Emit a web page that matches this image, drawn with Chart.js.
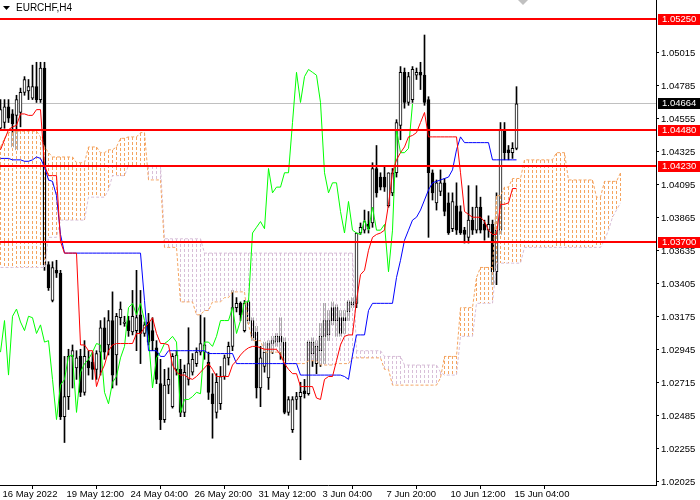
<!DOCTYPE html>
<html>
<head>
<meta charset="utf-8">
<script src="https://cdn.jsdelivr.net/npm/chart.js@4/dist/chart.umd.min.js"></script>
<style>
html,body{margin:0;padding:0;background:#ffffff;}
#wrap{width:700px;height:500px;position:relative;}
</style>
</head>
<body>
<div id="wrap"><canvas id="c" width="700" height="500"></canvas></div>
<script>
const symbolTitle = 'EURCHF,H4';

const opens = [
1.0449,1.0453,1.0464,1.0459,1.0458,1.0460,1.0474,1.0475,1.0470,1.0478,
1.0469,1.0491,1.0354,1.0329,1.0350,1.0348,1.0248,1.0262,1.0290,1.0282,
1.0290,1.0265,1.0287,1.0286,1.0281,1.0293,1.0310,1.0298,1.0315,1.0291,
1.0317,1.0313,1.0315,1.0307,1.0308,1.0319,1.0306,1.0314,1.0308,1.0296,
1.0271,1.0246,1.0270,1.0255,1.0281,1.0281,1.0251,1.0274,1.0279,1.0285,
1.0293,1.0293,1.0286,1.0264,1.0251,1.0257,1.0276,1.0289,1.0297,1.0324,
1.0327,1.0308,1.0328,1.0315,1.0307,1.0268,1.0283,1.0275,1.0299,1.0300,
1.0304,1.0300,1.0251,1.0239,1.0260,1.0262,1.0266,1.0264,1.0292,1.0285,
1.0294,1.0304,1.0305,1.0324,1.0315,1.0317,1.0317,1.0321,1.0326,1.0327,
1.0376,1.0378,1.0382,1.0383,1.0421,1.0415,1.0415,1.0395,1.0404,1.0418,
1.0451,1.0488,1.0467,1.0469,1.0486,1.0488,1.0486,1.0469,1.0418,1.0397,
1.0405,1.0411,1.0397,1.0379,1.0395,1.0391,1.0378,1.0373,1.0385,1.0378,
1.0394,1.0382,1.0378,1.0382,1.0349,1.0378,1.0448,1.0434,1.0432,1.0435];

const highs = [
1.0469,1.0469,1.0469,1.0462,1.0472,1.0477,1.0485,1.0483,1.0493,1.0495,
1.0495,1.0495,1.0356,1.0356,1.0357,1.0350,1.0290,1.0295,1.0298,1.0294,
1.0295,1.0301,1.0294,1.0293,1.0294,1.0315,1.0317,1.0322,1.0335,1.0320,
1.0328,1.0318,1.0318,1.0336,1.0350,1.0336,1.0314,1.0320,1.0317,1.0301,
1.0288,1.0281,1.0282,1.0292,1.0294,1.0288,1.0284,1.0310,1.0292,1.0296,
1.0319,1.0317,1.0293,1.0278,1.0278,1.0283,1.0291,1.0300,1.0336,1.0331,
1.0328,1.0329,1.0329,1.0317,1.0311,1.0297,1.0300,1.0301,1.0304,1.0306,
1.0317,1.0303,1.0262,1.0262,1.0265,1.0272,1.0274,1.0301,1.0303,1.0301,
1.0313,1.0327,1.0322,1.0328,1.0326,1.0322,1.0322,1.0329,1.0331,1.0376,
1.0383,1.0392,1.0391,1.0425,1.0437,1.0418,1.0422,1.0418,1.0421,1.0455,
1.0492,1.0491,1.0488,1.0492,1.0491,1.0495,1.0514,1.0471,1.0420,1.0413,
1.0420,1.0414,1.0404,1.0404,1.0411,1.0395,1.0380,1.0409,1.0394,1.0409,
1.0401,1.0385,1.0388,1.0385,1.0404,1.0453,1.0453,1.0437,1.0439,1.0478];

const lows = [
1.0448,1.0449,1.0453,1.0436,1.0434,1.0450,1.0472,1.0469,1.0469,1.0467,
1.0467,1.0350,1.0336,1.0328,1.0345,1.0246,1.0230,1.0253,1.0268,1.0274,
1.0262,1.0263,1.0277,1.0274,1.0274,1.0277,1.0288,1.0291,1.0268,1.0270,
1.0312,1.0311,1.0304,1.0305,1.0294,1.0285,1.0304,1.0298,1.0294,1.0271,
1.0239,1.0244,1.0264,1.0254,1.0277,1.0248,1.0248,1.0270,1.0277,1.0283,
1.0291,1.0288,1.0260,1.0233,1.0247,1.0253,1.0274,1.0284,1.0294,1.0321,
1.0315,1.0307,1.0313,1.0301,1.0261,1.0255,1.0279,1.0267,1.0292,1.0297,
1.0288,1.0250,1.0249,1.0237,1.0253,1.0218,1.0261,1.0263,1.0283,1.0278,
1.0283,1.0285,1.0301,1.0312,1.0304,1.0304,1.0306,1.0315,1.0324,1.0324,
1.0375,1.0376,1.0376,1.0380,1.0401,1.0406,1.0405,1.0394,1.0402,1.0415,
1.0441,1.0463,1.0465,1.0467,1.0483,1.0476,1.0465,1.0373,1.0399,1.0392,
1.0402,1.0388,1.0375,1.0377,1.0375,1.0375,1.0369,1.0369,1.0375,1.0376,
1.0376,1.0371,1.0373,1.0340,1.0340,1.0375,1.0427,1.0427,1.0428,1.0434];

const closes = [
1.0462,1.0464,1.0456,1.0452,1.0469,1.0474,1.0483,1.0478,1.0478,1.0469,
1.0491,1.0354,1.0338,1.0352,1.0348,1.0248,1.0262,1.0290,1.0294,1.0289,
1.0265,1.0290,1.0282,1.0281,1.0292,1.0310,1.0293,1.0315,1.0277,1.0318,
1.0323,1.0314,1.0308,1.0318,1.0317,1.0306,1.0312,1.0300,1.0301,1.0274,
1.0246,1.0270,1.0274,1.0290,1.0291,1.0251,1.0279,1.0285,1.0288,1.0293,
1.0299,1.0298,1.0265,1.0257,1.0272,1.0276,1.0289,1.0297,1.0324,1.0327,
1.0319,1.0327,1.0315,1.0303,1.0268,1.0289,1.0293,1.0299,1.0301,1.0304,
1.0300,1.0251,1.0260,1.0260,1.0262,1.0265,1.0264,1.0300,1.0300,1.0297,
1.0304,1.0315,1.0315,1.0315,1.0324,1.0306,1.0315,1.0328,1.0328,1.0376,
1.0380,1.0384,1.0379,1.0421,1.0404,1.0408,1.0408,1.0418,1.0418,1.0453,
1.0488,1.0467,1.0485,1.0490,1.0488,1.0486,1.0467,1.0418,1.0404,1.0411,
1.0411,1.0391,1.0376,1.0398,1.0378,1.0376,1.0375,1.0385,1.0378,1.0394,
1.0378,1.0378,1.0382,1.0349,1.0378,1.0448,1.0432,1.0432,1.0435,1.0466];

const tenkan = [
1.0434,1.0441,1.0448,1.0450,1.0451,1.0459,1.0459,1.0458,1.0458,1.0462,
1.0462,1.0423,1.0416,1.0416,1.0416,1.0370,1.0362,1.0362,1.0362,1.0362,
1.0298,1.0298,1.0294,1.0294,1.0269,1.0278,1.0284,1.0294,1.0298,1.0299,
1.0299,1.0299,1.0299,1.0299,1.0306,1.0306,1.0310,1.0313,1.0317,1.0306,
1.0299,1.0299,1.0298,1.0284,1.0279,1.0277,1.0277,1.0275,1.0274,1.0276,
1.0279,1.0282,1.0285,1.0281,1.0276,1.0276,1.0276,1.0276,1.0284,1.0287,
1.0291,1.0294,1.0296,1.0297,1.0297,1.0296,1.0295,1.0295,1.0295,1.0295,
1.0291,1.0285,1.0281,1.0278,1.0278,1.0269,1.0269,1.0269,1.0269,1.0261,
1.0260,1.0274,1.0276,1.0276,1.0287,1.0298,1.0304,1.0305,1.0305,1.0329,
1.0347,1.0350,1.0364,1.0373,1.0375,1.0376,1.0378,1.0396,1.0418,1.0427,
1.0432,1.0436,1.0443,1.0444,1.0446,1.0453,1.0460,1.0443,1.0443,1.0443,
1.0443,1.0443,1.0443,1.0443,1.0443,1.0418,1.0391,1.0389,1.0387,1.0387,
1.0387,1.0384,1.0378,1.0375,1.0375,1.0396,1.0396,1.0397,1.0407,1.0407];

const kijun = [
1.0428,1.0428,1.0428,1.0427,1.0427,1.0427,1.0426,1.0426,1.0427,1.0429,
1.0428,1.0422,1.0413,1.0412,1.0402,1.0375,1.0362,1.0362,1.0362,1.0362,
1.0362,1.0362,1.0362,1.0362,1.0362,1.0362,1.0362,1.0362,1.0362,1.0362,
1.0362,1.0362,1.0362,1.0362,1.0362,1.0362,1.0329,1.0294,1.0294,1.0294,
1.0290,1.0290,1.0294,1.0294,1.0294,1.0294,1.0294,1.0294,1.0294,1.0294,
1.0294,1.0294,1.0292,1.0292,1.0292,1.0292,1.0292,1.0292,1.0292,1.0285,
1.0285,1.0285,1.0285,1.0285,1.0285,1.0285,1.0285,1.0285,1.0285,1.0285,
1.0285,1.0285,1.0285,1.0285,1.0285,1.0277,1.0277,1.0277,1.0277,1.0277,
1.0277,1.0277,1.0277,1.0277,1.0277,1.0277,1.0276,1.0274,1.0291,1.0305,
1.0305,1.0305,1.0322,1.0327,1.0327,1.0327,1.0327,1.0327,1.0327,1.0345,
1.0357,1.0371,1.0378,1.0385,1.0387,1.0392,1.0399,1.0406,1.0411,1.0412,
1.0413,1.0414,1.0415,1.0420,1.0434,1.0443,1.0439,1.0439,1.0439,1.0439,
1.0439,1.0439,1.0439,1.0427,1.0427,1.0427,1.0427,1.0427,1.0427,1.0427];

const spanA = [
1.0436,1.0442,1.0446,1.0446,1.0447,1.0447,1.0447,1.0447,1.0447,1.0447,
1.0443,1.0436,1.0432,1.0429,1.0429,1.0429,1.0429,1.0429,1.0429,1.0425,
1.0425,1.0425,1.0436,1.0436,1.0436,1.0432,1.0432,1.0434,1.0434,1.0436,
1.0442,1.0442,1.0443,1.0443,1.0443,1.0446,1.0446,1.0413,1.0413,1.0413,
1.0413,1.0366,1.0366,1.0366,1.0366,1.0328,1.0328,1.0328,1.0328,1.0319,
1.0319,1.0322,1.0322,1.0328,1.0328,1.0328,1.0331,1.0331,1.0335,1.0335,
1.0335,1.0335,1.0312,1.0301,1.0301,1.0301,1.0293,1.0293,1.0293,1.0293,
1.0293,1.0285,1.0285,1.0285,1.0285,1.0285,1.0285,1.0287,1.0287,1.0287,
1.0284,1.0284,1.0284,1.0284,1.0285,1.0285,1.0285,1.0285,1.0289,1.0289,
1.0289,1.0289,1.0289,1.0289,1.0289,1.0289,1.0281,1.0281,1.0270,1.0270,
1.0270,1.0270,1.0270,1.0270,1.0270,1.0270,1.0270,1.0270,1.0270,1.0270,
1.0275,1.0290,1.0290,1.0290,1.0290,1.0324,1.0324,1.0324,1.0324,1.0345,
1.0352,1.0352,1.0352,1.0352,1.0402,1.0402,1.0408,1.0408,1.0414,1.0414,
1.0414,1.0427,1.0427,1.0427,1.0427,1.0427,1.0427,1.0427,1.0427,1.0432,
1.0432,1.0432,1.0413,1.0413,1.0413,1.0413,1.0413,1.0413,1.0413,1.0401,
1.0401,1.0412,1.0412,1.0412,1.0412,1.0418];

const spanB = [
1.0352,1.0352,1.0352,1.0352,1.0352,1.0352,1.0352,1.0352,1.0352,1.0352,
1.0352,1.0352,1.0373,1.0373,1.0373,1.0385,1.0385,1.0385,1.0385,1.0385,
1.0385,1.0385,1.0401,1.0401,1.0401,1.0401,1.0401,1.0406,1.0416,1.0416,
1.0416,1.0416,1.0423,1.0423,1.0423,1.0423,1.0423,1.0423,1.0423,1.0423,
1.0423,1.0372,1.0372,1.0372,1.0372,1.0372,1.0372,1.0372,1.0372,1.0372,
1.0372,1.0362,1.0362,1.0362,1.0362,1.0362,1.0362,1.0362,1.0362,1.0362,
1.0362,1.0362,1.0362,1.0362,1.0362,1.0362,1.0362,1.0362,1.0362,1.0362,
1.0362,1.0362,1.0362,1.0362,1.0362,1.0362,1.0362,1.0362,1.0362,1.0362,
1.0362,1.0362,1.0362,1.0362,1.0362,1.0362,1.0362,1.0362,1.0362,1.0294,
1.0294,1.0294,1.0294,1.0294,1.0294,1.0294,1.0290,1.0290,1.0290,1.0290,
1.0290,1.0284,1.0284,1.0284,1.0284,1.0284,1.0284,1.0284,1.0284,1.0284,
1.0279,1.0277,1.0277,1.0277,1.0277,1.0304,1.0304,1.0304,1.0304,1.0327,
1.0327,1.0327,1.0327,1.0327,1.0355,1.0355,1.0355,1.0355,1.0355,1.0355,
1.0355,1.0366,1.0366,1.0366,1.0366,1.0366,1.0366,1.0366,1.0366,1.0366,
1.0366,1.0366,1.0366,1.0366,1.0366,1.0366,1.0366,1.0366,1.0366,1.0366,
1.0366,1.0371,1.0378,1.0387,1.0392,1.0397];

const chikouShift = 26;

const xTickIdx = [0,16,32,48,64,80,96,112,128];
const xTickLabels = ['16 May 2022','19 May 12:00','24 May 04:00','26 May 20:00','31 May 12:00','3 Jun 04:00','7 Jun 20:00','10 Jun 12:00','15 Jun 04:00'];
const yTickValues = [1.02025,1.02255,1.02485,1.02715,1.02945,1.03175,1.03405,1.03635,1.03865,1.04095,1.04325,1.04555,1.04785,1.05015];

const levelValues = [1.05250,1.04480,1.04230,1.03700];
const levelLabels = ['1.05250','1.04480','1.04230','1.03700'];
const bidValue = 1.04664;
const bidLabel = '1.04664';

const yMin = 1.02004, yMax = 1.05384;
const xMin = -0.125, xMax = 163.875;

const FONT = "'Liberation Sans', Arial, sans-serif";
Chart.defaults.font.family = FONT;
Chart.defaults.font.size = 9.5;
Chart.defaults.color = '#000000';

const idx = closes.map((_, i) => i);
const wickData = idx.map(i => ({x: i, y: [lows[i], highs[i]]}));
const bodyData = idx.map(i => ({x: i, y: [opens[i], closes[i]]}));
const toXY = arr => arr.map((v, i) => ({x: i, y: v}));
const chikouData = closes.slice(chikouShift).map((v, i) => ({x: i, y: v}));

const cloudHatch = {
  id: 'cloudHatch',
  afterDatasetDraw(chart, args) {
    if (chart.data.datasets[args.index].label !== 'Bodies') return;
    const ctx = chart.ctx, ca = chart.chartArea;
    const xs = chart.scales.x, ys = chart.scales.y;
    ctx.save();
    ctx.beginPath();
    ctx.rect(ca.left, ca.top, ca.right - ca.left, ca.bottom - ca.top);
    ctx.clip();
    ctx.lineWidth = 1;
    for (let i = 0; i < spanA.length; i++) {
      const px = Math.floor(xs.getPixelForValue(i)) + 0.5;
      const ya = ys.getPixelForValue(spanA[i]);
      const yb = ys.getPixelForValue(spanB[i]);
      const top = Math.round(Math.min(ya, yb));
      const bot = Math.round(Math.max(ya, yb));
      ctx.setLineDash([]);
      ctx.strokeStyle = '#ffffff';
      ctx.beginPath(); ctx.moveTo(px, top); ctx.lineTo(px, bot); ctx.stroke();
      ctx.setLineDash([3, 2]);
      ctx.strokeStyle = spanA[i] >= spanB[i] ? '#F4A460' : '#D8BFD8';
      ctx.beginPath(); ctx.moveTo(px, top); ctx.lineTo(px, bot); ctx.stroke();
    }
    ctx.restore();
  }
};

const levelsPlugin = {
  id: 'levelsPlugin',
  beforeDatasetsDraw(chart) {
    const ctx = chart.ctx, ca = chart.chartArea, ys = chart.scales.y;
    const y = Math.round(ys.getPixelForValue(bidValue)) + 0.5;
    ctx.save();
    ctx.strokeStyle = '#C0C0C0';
    ctx.lineWidth = 1;
    ctx.beginPath(); ctx.moveTo(ca.left, y); ctx.lineTo(ca.right, y); ctx.stroke();
    ctx.restore();
  },
  afterDatasetsDraw(chart) {
    const ctx = chart.ctx, ca = chart.chartArea, ys = chart.scales.y;
    ctx.save();
    ctx.strokeStyle = '#FF0000';
    ctx.lineWidth = 2;
    levelValues.forEach(v => {
      const y = Math.round(ys.getPixelForValue(v));
      ctx.beginPath(); ctx.moveTo(ca.left, y); ctx.lineTo(ca.right, y); ctx.stroke();
    });
    ctx.restore();
  },
  afterDraw(chart) {
    const ctx = chart.ctx, ca = chart.chartArea, ys = chart.scales.y;
    ctx.save();
    ctx.font = '9.5px ' + FONT;
    ctx.textBaseline = 'middle';
    ctx.textAlign = 'left';
    const box = (v, label, bg) => {
      const y = Math.round(ys.getPixelForValue(v));
      ctx.fillStyle = bg;
      ctx.fillRect(ca.right + 2, y - 5, 42, 11);
      ctx.fillStyle = '#ffffff';
      ctx.fillText(label, ca.right + 6, y + 0.5);
    };
    levelValues.forEach((v, k) => box(v, levelLabels[k], '#FF0000'));
    box(bidValue, bidLabel, '#000000');
    ctx.fillStyle = '#000000';
    ctx.beginPath(); ctx.moveTo(3, 6); ctx.lineTo(10, 6); ctx.lineTo(6.5, 10); ctx.closePath(); ctx.fill();
    ctx.font = '10px ' + FONT;
    ctx.fillText(symbolTitle, 16, 8);
    ctx.fillStyle = '#C0C0C0';
    ctx.beginPath(); ctx.moveTo(518, 0); ctx.lineTo(528, 0); ctx.lineTo(523, 5); ctx.closePath(); ctx.fill();
    ctx.restore();
  }
};

new Chart(document.getElementById('c'), {
  type: 'bar',
  data: {
    datasets: [
      { type: 'line', label: 'Tenkan', data: toXY(tenkan), borderColor: '#FF0000', borderWidth: 1, pointRadius: 0, tension: 0, fill: false, order: 1 },
      { type: 'line', label: 'Kijun', data: toXY(kijun), borderColor: '#0000FF', borderWidth: 1, pointRadius: 0, tension: 0, fill: false, order: 2 },
      { type: 'line', label: 'Chikou', data: chikouData, borderColor: '#00FF00', borderWidth: 1, pointRadius: 0, tension: 0, fill: false, order: 3 },
      { type: 'line', label: 'SpanA', data: toXY(spanA), borderColor: '#F4A460', borderWidth: 1, borderDash: [3, 2], pointRadius: 0, tension: 0, fill: false, order: 5 },
      { type: 'line', label: 'SpanB', data: toXY(spanB), borderColor: '#D8BFD8', borderWidth: 1, borderDash: [3, 2], pointRadius: 0, tension: 0, fill: false, order: 6 },
      { type: 'bar', label: 'Bodies', data: bodyData, barThickness: 3, grouped: false, minBarLength: 1,
        backgroundColor: c => (closes[c.dataIndex] < opens[c.dataIndex] ? '#000000' : '#ffffff'),
        borderColor: '#000000', borderWidth: 1, borderSkipped: false, order: 9 },
      { type: 'bar', label: 'Wicks', data: wickData, barThickness: 1, grouped: false,
        backgroundColor: '#000000', borderWidth: 0, order: 10 }
    ]
  },
  options: {
    responsive: false,
    maintainAspectRatio: false,
    animation: false,
    devicePixelRatio: 1,
    events: [],
    layout: { padding: 0 },
    plugins: { legend: { display: false }, tooltip: { enabled: false } },
    scales: {
      x: {
        type: 'linear', position: 'bottom', min: xMin, max: xMax, offset: false,
        afterFit: s => { s.height = 15; s.paddingLeft = 0; s.paddingRight = 0; },
        afterBuildTicks: s => { s.ticks = xTickIdx.map(v => ({ value: v })); },
        ticks: {
          autoSkip: false, maxRotation: 0, minRotation: 0, align: 'start', padding: 0, labelOffset: 2,
          color: '#000000', font: { size: 9.5 },
          callback: v => { const k = xTickIdx.indexOf(v); return k >= 0 ? xTickLabels[k] : ''; }
        },
        grid: { drawOnChartArea: false, drawTicks: true, tickLength: 4, color: '#000000' },
        border: { display: true, color: '#000000', width: 1 }
      },
      y: {
        type: 'linear', position: 'right', min: yMin, max: yMax,
        afterFit: s => { s.width = 44; s.paddingTop = 0; s.paddingBottom = 0; },
        afterBuildTicks: s => { s.ticks = yTickValues.map(v => ({ value: v })); },
        ticks: { padding: 2, color: '#000000', font: { size: 9.5 }, callback: v => Number(v).toFixed(5) },
        grid: { drawOnChartArea: false, drawTicks: true, tickLength: 3, color: '#000000' },
        border: { display: true, color: '#000000', width: 1 }
      }
    }
  },
  plugins: [cloudHatch, levelsPlugin]
});
</script>
</body>
</html>
